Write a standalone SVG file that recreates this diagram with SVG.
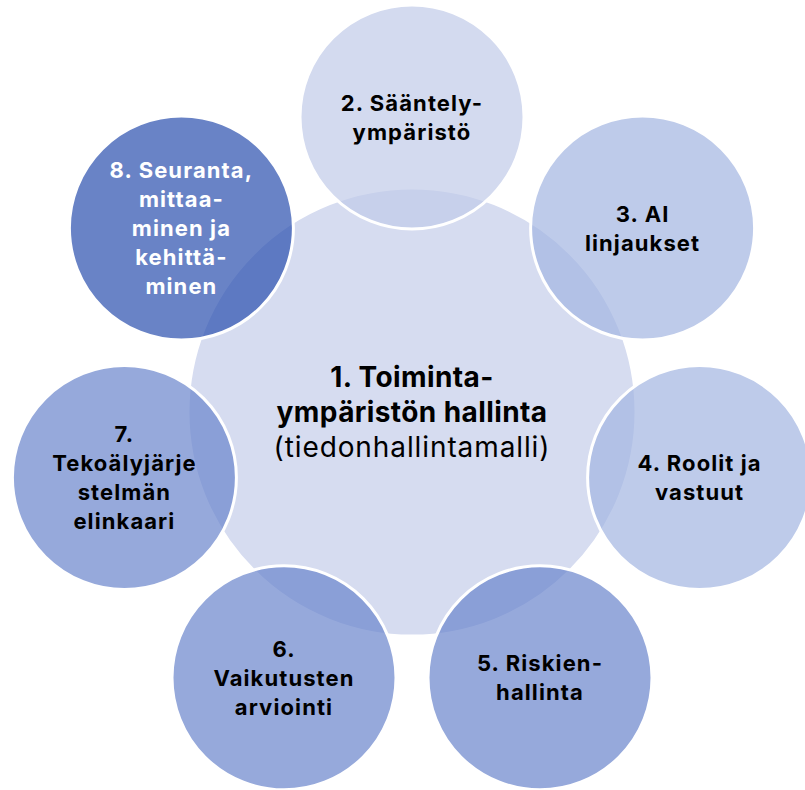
<svg xmlns="http://www.w3.org/2000/svg" width="805" height="790" viewBox="0 0 805 790">
  <style>
    .ring { stroke: #ffffff; stroke-width: 3; }
    .hub { fill: #D6DCF0; stroke: #ffffff; stroke-width: 3; }
    .c2 { fill: #C0CAE8; fill-opacity: 0.7; }
    .c3 { fill: #A2B5E1; fill-opacity: 0.7; }
    .c5 { fill: #6984CC; fill-opacity: 0.7; }
    .c8 { fill: #2A4FAE; fill-opacity: 0.7; }
    text { font-family: "Inter", "Liberation Sans", Arial, sans-serif; text-anchor: middle; }
    .lbl { font-size: 22px; font-weight: 700; letter-spacing: 1.1px; fill: #000000; }
    .lbl.light { fill: #ffffff; }
    .main { font-size: 28px; font-weight: 700; letter-spacing: 0.4px; fill: #000000; }
    .sub { font-size: 28px; font-weight: 400; letter-spacing: 0.9px; fill: #000000; }
  </style>

  <!-- central hub -->
  <g id="node1">
    <circle class="hub" cx="412" cy="412" r="224"/>
    <text class="main" x="412" y="387">1. Toiminta-</text>
    <text class="main" x="412" y="422">ympäristön hallinta</text>
    <text class="sub" x="412" y="457">(tiedonhallintamalli)</text>
  </g>

  <!-- satellites, evenly spaced on a 295px ring -->
  <g id="node2">
    <circle class="ring c2" cx="412" cy="117" r="112"/>
    <text class="lbl" x="412" y="110.5">2. Sääntely-</text>
    <text class="lbl" x="412" y="139.5">ympäristö</text>
  </g>

  <g id="node3">
    <circle class="ring c3" cx="642.6" cy="228.1" r="112"/>
    <text class="lbl" x="642.6" y="221.5">3. AI</text>
    <text class="lbl" x="642.6" y="250.5">linjaukset</text>
  </g>

  <g id="node4">
    <circle class="ring c3" cx="699.6" cy="477.6" r="112"/>
    <text class="lbl" x="699.6" y="471">4. Roolit ja</text>
    <text class="lbl" x="699.6" y="500">vastuut</text>
  </g>

  <g id="node5">
    <circle class="ring c5" cx="540" cy="677.8" r="112"/>
    <text class="lbl" x="540" y="671">5. Riskien-</text>
    <text class="lbl" x="540" y="700">hallinta</text>
  </g>

  <g id="node6">
    <circle class="ring c5" cx="284" cy="677.8" r="112"/>
    <text class="lbl" x="284" y="657">6.</text>
    <text class="lbl" x="284" y="686">Vaikutusten</text>
    <text class="lbl" x="284" y="715">arviointi</text>
  </g>

  <g id="node7">
    <circle class="ring c5" cx="124.4" cy="477.6" r="112"/>
    <text class="lbl" x="124.4" y="442">7.</text>
    <text class="lbl" x="124.4" y="471">Tekoälyjärje</text>
    <text class="lbl" x="124.4" y="500">stelmän</text>
    <text class="lbl" x="124.4" y="529">elinkaari</text>
  </g>

  <g id="node8">
    <circle class="ring c8" cx="181.4" cy="228.1" r="112"/>
    <text class="lbl light" x="181.4" y="178">8. Seuranta,</text>
    <text class="lbl light" x="181.4" y="207">mittaa-</text>
    <text class="lbl light" x="181.4" y="236">minen ja</text>
    <text class="lbl light" x="181.4" y="265">kehittä-</text>
    <text class="lbl light" x="181.4" y="294">minen</text>
  </g>

  <!-- no connectors in this figure -->
  <g id="connectors"/>
</svg>
